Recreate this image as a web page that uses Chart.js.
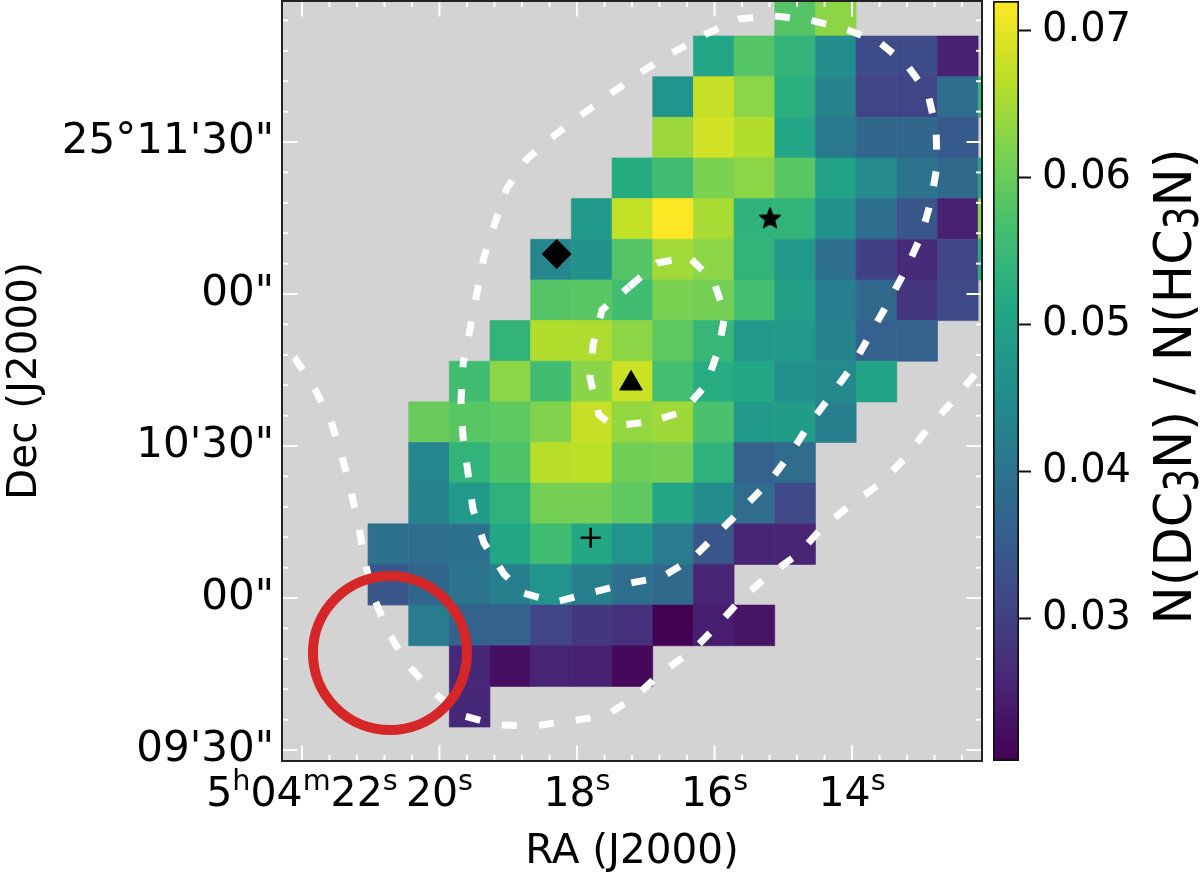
<!DOCTYPE html>
<html lang="en">

<head>
    <meta charset="UTF-8">
    <script src="https://cdn.jsdelivr.net/npm/chart.js"></script>
    <title>N(DC3N) / N(HC3N)</title>
    <style>
        body { margin: 0; background: #fff; }
        #wrap { position: relative; width: 1200px; height: 877px; }
        canvas { position: absolute; left: 0; top: 0; }
    </style>
</head>

<body>
<div id="wrap">
    <canvas id="mapa" width="1200" height="877"></canvas>
    <canvas id="barra" width="1200" height="877"></canvas>
</div>

<script>
    // pixel centres of the map (RA in seconds of 5h04m, Dec in arcsec above 25 deg)
    var raCenters = [20.744, 20.152, 19.561, 18.969, 18.378, 17.786, 17.194, 16.603, 16.011, 15.420, 14.828, 14.236, 13.645, 13.053, 12.462, 11.870];
    var decCenters = [714.93, 706.91, 698.88, 690.86, 682.84, 674.82, 666.79, 658.77, 650.75, 642.72, 634.70, 626.68, 618.66, 610.63, 602.61, 594.59, 586.57, 578.54];

    // one row per Dec, top to bottom
    var _ = null;
    var ratio = [
        [_, _, _, _, _, _, _, _, _, _, .0580, .0630, _, _, _, _],
        [_, _, _, _, _, _, _, _, .0508, .0580, .0540, .0452, .0320, .0320, .0250, _],
        [_, _, _, _, _, _, _, .0470, .0675, .0630, .0528, .0430, .0306, .0306, .0384, .0540],
        [_, _, _, _, _, _, _, .0643, .0685, .0660, .0508, .0410, .0375, .0375, .0348, _],
        [_, _, _, _, _, _, .0520, .0560, .0617, .0630, .0585, .0500, .0446, .0400, .0378, .0500],
        [_, _, _, _, _, .0482, .0672, .0720, .0652, .0535, .0538, .0462, .0390, .0343, .0250, .0630],
        [_, _, _, _, .0440, .0465, .0580, .0647, .0630, .0538, .0477, .0390, .0300, .0265, .0310, .0520],
        [_, _, _, _, .0580, .0585, .0560, .0617, .0612, .0565, .0492, .0420, .0378, .0286, .0317, _],
        [_, _, _, .0538, .0660, .0657, .0630, .0590, .0545, .0477, .0480, .0435, .0362, .0362, _, _],
        [_, _, .0560, .0630, .0560, .0628, .0680, .0565, .0522, .0513, .0462, .0445, .0500, _, _, _],
        [_, .0600, .0585, .0590, .0622, .0675, .0637, .0645, .0570, .0482, .0487, .0425, _, _, _, _],
        [_, .0441, .0538, .0575, .0665, .0668, .0607, .0612, .0535, .0362, .0384, _, _, _, _, _],
        [_, .0430, .0482, .0533, .0612, .0612, .0590, .0508, .0452, .0384, .0317, _, _, _, _, _],
        [.0395, .0387, .0395, .0508, .0560, .0513, .0470, .0415, .0343, .0255, .0255, _, _, _, _, _],
        [.0343, .0375, .0400, .0425, .0470, .0425, .0390, .0378, .0255, _, _, _, _, _, _, _],
        [_, .0415, .0367, .0367, .0306, .0286, .0275, .0203, .0245, .0230, _, _, _, _, _, _],
        [_, _, .0260, .0225, .0255, .0250, .0213, _, _, _, _, _, _, _, _, _],
        [_, _, .0260, _, _, _, _, _, _, _, _, _, _, _, _, _]
    ];

    var vMin = 0.0203;
    var vMax = 0.0720;
    var barTicks = [0.03, 0.04, 0.05, 0.06, 0.07];

    // viridis, 11 stops
    var viridis = ['#440154', '#482475', '#414487', '#355f8d', '#2a788e', '#21918c', '#22a884', '#44bf70', '#7ad151', '#bddf26', '#fde725'];

    var raTicks = [22, 20, 18, 16, 14];
    var raLabels = ['5h04m22s', '20s', '18s', '16s', '14s'];
    var decTicks = [690, 660, 630, 600, 570];
    var decLabels = ['25°11\'30"', '00"', '10\'30"', '00"', '09\'30"'];

    // contours, one vertex at the middle of each dash
    var outerRa = [22.393, 22.102, 21.811, 21.578, 21.418, 21.287, 21.171, 21.084, 20.953, 20.749, 20.487, 20.124, 19.687, 19.164, 18.640, 18.116, 17.593, 17.156, 16.764, 16.327, 15.964, 15.600, 15.207, 14.785, 14.422, 14.000, 13.578, 13.215, 12.895, 12.546, 12.182, 11.847];
    var outerDec = [651.91, 647.37, 641.25, 634.94, 628.03, 621.12, 614.02, 607.11, 600.00, 593.49, 587.17, 581.84, 576.91, 574.94, 574.74, 575.73, 576.71, 580.46, 585.40, 589.54, 594.48, 600.00, 604.54, 608.69, 614.02, 618.56, 622.70, 627.83, 633.56, 638.69, 644.61, 649.94];
    var midRa = [19.658, 19.556, 19.455, 19.353, 19.193, 19.018, 18.727, 18.320, 17.898, 17.476, 17.040, 16.589, 16.124, 15.644, 15.135, 14.611, 14.102, 13.607, 13.200, 12.895, 12.778, 12.764, 12.851, 12.996, 13.215, 13.462, 13.724, 13.985, 14.291, 14.611, 14.887, 15.207, 15.585, 15.964, 16.327, 16.764, 17.287, 17.811, 18.320, 18.785, 19.062, 19.353, 19.513, 19.585, 19.658, 19.687, 19.658];
    var midDec = [645.99, 653.10, 660.20, 667.31, 674.02, 680.92, 686.65, 691.39, 695.73, 699.87, 704.02, 707.77, 711.32, 714.28, 714.87, 714.08, 712.31, 709.74, 705.20, 699.48, 692.57, 685.27, 678.36, 671.45, 664.94, 658.62, 652.31, 645.99, 640.27, 634.54, 628.62, 622.90, 617.77, 612.64, 607.70, 604.15, 602.77, 600.99, 599.21, 600.99, 604.74, 610.86, 617.57, 624.67, 631.78, 638.88, 645.99];
    var innerRa = [17.244, 17.636, 17.767, 17.811, 17.680, 17.476, 16.953, 16.473, 16.124, 15.949, 15.847, 16.007, 16.371, 16.836, 17.244];
    var innerDec = [661.38, 656.85, 649.94, 643.42, 636.12, 633.95, 634.74, 636.71, 642.04, 648.75, 655.86, 662.37, 667.31, 666.12, 661.38];

    // marcadores: x = RA, y = Dec
    var diamante = [{ x: 18.295, y: 667.90 }];
    var estrela = [{ x: 15.193, y: 674.94 }];
    var triangulo = [{ x: 17.214, y: 642.34 }];
    var cruz = [{ x: 17.801, y: 611.90 }];
    var beam = [{ x: 20.720, y: 589.15 }];

    function corViridis(v) {
        var t = Math.min(1, Math.max(0, (v - vMin) / (vMax - vMin))) * (viridis.length - 1);
        var i = Math.min(viridis.length - 2, Math.floor(t));
        var f = t - i;
        var a = parseInt(viridis[i].slice(1), 16);
        var b = parseInt(viridis[i + 1].slice(1), 16);
        var r = Math.round((a >> 16) * (1 - f) + (b >> 16) * f);
        var g = Math.round(((a >> 8) & 255) * (1 - f) + ((b >> 8) & 255) * f);
        var bl = Math.round((a & 255) * (1 - f) + (b & 255) * f);
        return `rgb(${r},${g},${bl})`;
    }

    var celulas = [];
    for (var i = 0; i < decCenters.length; i++) {
        for (var j = 0; j < raCenters.length; j++) {
            if (ratio[i][j] !== null) {
                celulas.push({ x: raCenters[j], y: decCenters[i], v: ratio[i][j] });
            }
        }
    }

    function juntar(ra, dec) {
        return ra.map(function (valor, k) {
            return { x: valor, y: dec[k] };
        });
    }

    // the built-in 'star' point style is only an asterisk, so a filled one goes on a small canvas
    function criarEstrela() {
        var c = document.createElement('canvas');
        c.width = 26;
        c.height = 26;
        var g = c.getContext('2d');
        g.fillStyle = '#000';
        g.strokeStyle = '#000';
        g.lineWidth = 1.5;
        g.lineJoin = 'round';
        g.beginPath();
        for (var k = 0; k < 10; k++) {
            var r = k % 2 ? 4.6 : 10.8;
            var a = -Math.PI / 2 + k * Math.PI / 5;
            g.lineTo(13 + r * Math.cos(a), 13.5 + r * Math.sin(a));
        }
        g.closePath();
        g.fill();
        g.stroke();
        return c;
    }

    function contorno(ra, dec, periodo) {
        return {
            data: juntar(ra, dec),
            showLine: true,
            pointRadius: 0,
            borderColor: '#fff',
            borderWidth: 7,
            borderDash: [15, periodo - 15],
            borderDashOffset: 7.5,
            borderCapStyle: 'butt',
            tension: 0,
            clip: 0
        };
    }

    function marcador(dados, estilo, raio, extras) {
        return Object.assign({
            data: dados,
            pointStyle: estilo,
            pointRadius: raio,
            pointBackgroundColor: '#000',
            pointBorderColor: '#000',
            pointBorderWidth: 1,
            clip: 0
        }, extras);
    }

    // chart.js reserves half a label above and below the scale, the plot has to fill the box
    function semPadding(s) {
        s.paddingTop = 0;
        s.paddingBottom = 0;
        s.paddingLeft = 0;
        s.paddingRight = 0;
    }

    // writes text where letters in `altos` are raised / lowered at 0.7 size
    function textoMisto(ctx, texto, altos, desloc, x, y, tam, esticar) {
        var partes = texto.split('').map(function (ch) {
            var peq = altos.indexOf(ch) >= 0;
            ctx.font = (peq ? tam * 0.7 : tam) + 'px "DejaVu Sans"';
            return { ch: ch, peq: peq, w: ctx.measureText(ch).width };
        });
        var total = partes.reduce(function (s, p) { return s + p.w; }, 0);
        var cx = x - total / 2;
        ctx.textAlign = 'left';
        ctx.textBaseline = 'alphabetic';
        partes.forEach(function (p) {
            ctx.font = (p.peq ? tam * 0.7 : tam) + 'px "DejaVu Sans"';
            if (p.peq) {
                ctx.save();
                ctx.translate(cx, y + desloc);
                ctx.scale(1, esticar || 1);
                ctx.fillText(p.ch, 0, 0);
                ctx.restore();
            } else {
                ctx.fillText(p.ch, cx, y);
            }
            cx += p.w;
        });
    }

    // grey background under the datasets
    var fundoCinza = {
        id: 'fundoCinza',
        beforeDatasetsDraw: function (chart) {
            var a = chart.chartArea;
            chart.ctx.fillStyle = '#d3d3d3';
            chart.ctx.fillRect(a.left, a.top, a.width, a.height);
        }
    };

    // white inward ticks on all four sides, frame on top, RA labels with superscripts
    var ticksBrancos = {
        id: 'ticksBrancos',
        afterDatasetsDraw: function (chart) {
            var ctx = chart.ctx;
            var a = chart.chartArea;
            var x = chart.scales.x;
            var y = chart.scales.y;

            function traco(x1, y1, x2, y2) {
                ctx.beginPath();
                ctx.moveTo(x1, y1);
                ctx.lineTo(x2, y2);
                ctx.stroke();
            }

            ctx.save();
            ctx.strokeStyle = '#fff';
            ctx.lineWidth = 2;
            for (var s = 22; s > 12.2; s -= 0.4) {
                var ehMajorX = raTicks.some(function (t) { return Math.abs(t - s) < 0.01; });
                var tamX = ehMajorX ? 15.5 : 6;
                var px = x.getPixelForValue(s);
                traco(px, a.top, px, a.top + tamX);
                traco(px, a.bottom, px, a.bottom - tamX);
            }
            for (var d = 570; d <= 714; d += 6) {
                var tamY = d % 30 === 0 ? 15.5 : 6;
                var py = y.getPixelForValue(d);
                traco(a.left, py, a.left + tamY, py);
                traco(a.right, py, a.right - tamY, py);
            }
            ctx.strokeStyle = '#222';
            ctx.lineWidth = 2;
            ctx.strokeRect(a.left, a.top, a.width, a.height);

            ctx.fillStyle = '#000';
            raLabels.forEach(function (rotulo, k) {
                textoMisto(ctx, rotulo, 'hms', -16, x.getPixelForValue(raTicks[k]), 806, 41);
            });
            ctx.restore();
        }
    };

    new Chart(document.getElementById('mapa'), {
        type: 'scatter',
        data: {
            // chart.js paints the first dataset last, so top layer comes first
            datasets: [
                marcador(beam, 'circle', 77, {
                    pointBackgroundColor: 'rgba(0,0,0,0)',
                    pointBorderColor: '#d62728',
                    pointBorderWidth: 10
                }),
                marcador(diamante, 'rectRot', 14.5),
                marcador(estrela, criarEstrela(), 13),
                marcador(triangulo, 'triangle', 13),
                marcador(cruz, 'cross', 10, { pointBorderWidth: 2.5 }),
                contorno(outerRa, outerDec, 37.2),
                contorno(midRa, midDec, 36.9),
                contorno(innerRa, innerDec, 36.3),
                {
                    data: celulas,
                    pointStyle: 'rect',
                    pointRadius: 28.76,
                    pointBorderWidth: 0.6,
                    pointBackgroundColor: function (c) { return c.raw ? corViridis(c.raw.v) : '#000'; },
                    pointBorderColor: function (c) { return c.raw ? corViridis(c.raw.v) : '#000'; },
                    clip: 0
                }
            ]
        },
        options: {
            responsive: false,
            animation: false,
            events: [],
            // without this the big beam circle pushes the plot down
            layout: { autoPadding: false, padding: { left: 0, top: 1, right: 218, bottom: 0 } },
            plugins: { legend: { display: false }, tooltip: { enabled: false } },
            scales: {
                x: {
                    type: 'linear',
                    reverse: true,
                    min: 12.11,
                    max: 22.29,
                    afterFit: function (s) { s.height = 116; semPadding(s); },
                    afterBuildTicks: function (s) { s.ticks = raTicks.map(function (v) { return { value: v }; }); },
                    grid: { display: false, drawTicks: false },
                    border: { display: false },
                    ticks: { display: false },
                    title: {
                        display: true,
                        text: 'RA (J2000)',
                        color: '#000',
                        font: { family: 'DejaVu Sans', size: 40.5 },
                        padding: { top: -4, bottom: 0 }
                    }
                },
                y: {
                    type: 'linear',
                    min: 567.83,
                    max: 717.83,
                    afterFit: function (s) { s.width = 282; semPadding(s); },
                    afterBuildTicks: function (s) { s.ticks = decTicks.map(function (v) { return { value: v }; }); },
                    grid: { display: false, drawTicks: false },
                    border: { display: false },
                    ticks: {
                        autoSkip: false,
                        padding: 8,
                        color: '#000',
                        font: { family: 'DejaVu Sans', size: 42 },
                        callback: function (v) { return decLabels[decTicks.indexOf(v)]; }
                    },
                    title: {
                        display: true,
                        text: 'Dec (J2000)',
                        color: '#000',
                        font: { family: 'DejaVu Sans', size: 40.5 },
                        padding: { top: 1, bottom: 0 }
                    }
                }
            }
        },
        plugins: [fundoCinza, ticksBrancos]
    });

    // colour bar, a second chart on top of the first
    var tituloBarra = {
        id: 'tituloBarra',
        afterDraw: function (chart) {
            var ctx = chart.ctx;
            ctx.save();
            ctx.translate(1190.5, 386.5);
            ctx.rotate(-Math.PI / 2);
            ctx.fillStyle = '#000';
            textoMisto(ctx, 'N(DC3N) / N(HC3N)', '3', 7.5, 0, 0, 51, 1.35);
            ctx.restore();
        }
    };

    new Chart(document.getElementById('barra'), {
        type: 'bar',
        data: {
            labels: ['ratio'],
            datasets: [{
                data: [[vMin, vMax]],
                barPercentage: 1,
                categoryPercentage: 1,
                borderColor: '#111',
                borderWidth: 2,
                borderSkipped: false,
                backgroundColor: function (c) {
                    var a = c.chart.chartArea;
                    if (!a) {
                        return null;
                    }
                    var grad = c.chart.ctx.createLinearGradient(0, a.bottom, 0, a.top);
                    viridis.forEach(function (cor, k) {
                        grad.addColorStop(k / (viridis.length - 1), cor);
                    });
                    return grad;
                }
            }]
        },
        options: {
            responsive: false,
            animation: false,
            events: [],
            layout: { padding: { left: 993, top: 1, right: 0, bottom: 116 } },
            plugins: { legend: { display: false }, tooltip: { enabled: false } },
            scales: {
                x: { display: false },
                y: {
                    position: 'right',
                    min: vMin,
                    max: vMax,
                    afterFit: function (s) { s.width = 181; semPadding(s); },
                    afterBuildTicks: function (s) { s.ticks = barTicks.map(function (v) { return { value: v }; }); },
                    grid: { drawOnChartArea: false, drawTicks: true, tickLength: 12, tickColor: '#111', tickWidth: 2 },
                    border: { display: false },
                    ticks: {
                        padding: 11,
                        color: '#000',
                        font: { family: 'DejaVu Sans', size: 40 },
                        callback: function (v) { return v.toFixed(2); }
                    }
                }
            }
        },
        plugins: [tituloBarra]
    });
</script>
</body>

</html>
